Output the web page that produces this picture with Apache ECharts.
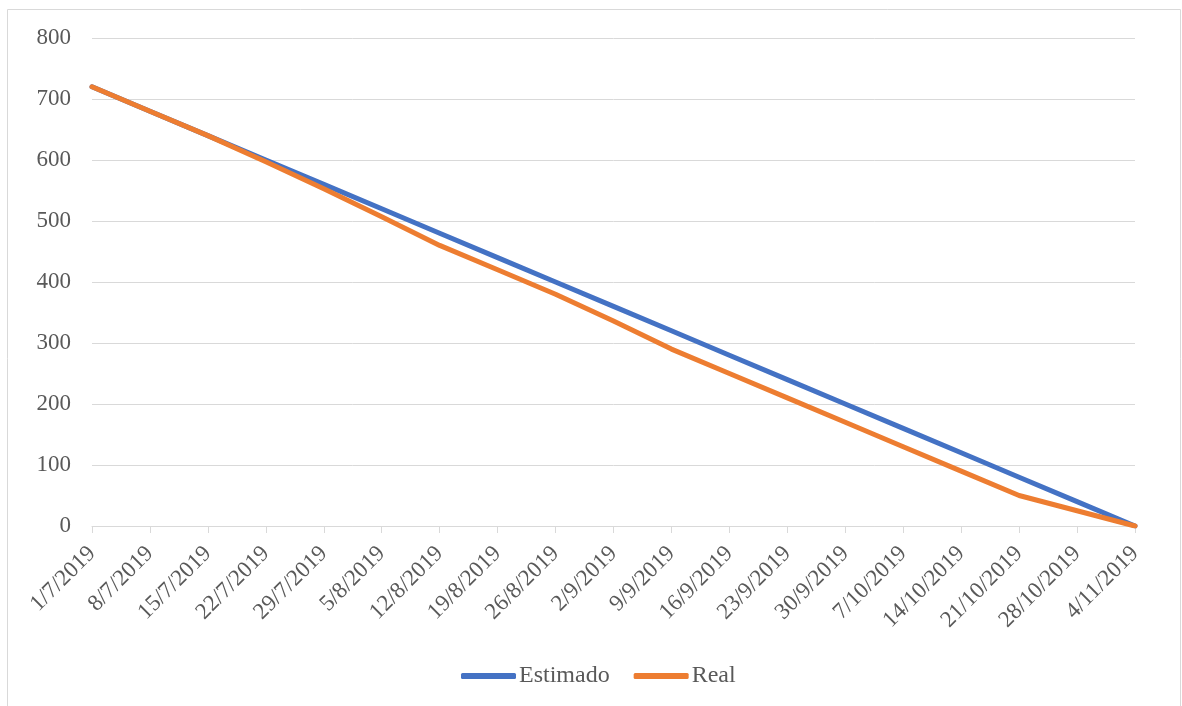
<!DOCTYPE html>
<html>
<head>
<meta charset="utf-8">
<script src="https://cdn.jsdelivr.net/npm/echarts@6/dist/echarts.min.js"></script>
<style>
html,body{margin:0;padding:0;background:#fff;}
#c{width:1182px;height:706px;}
</style>
</head>
<body>
<div id="c"></div>
<script>
const categories = ['1/7/2019','8/7/2019','15/7/2019','22/7/2019','29/7/2019','5/8/2019','12/8/2019','19/8/2019','26/8/2019','2/9/2019','9/9/2019','16/9/2019','23/9/2019','30/9/2019','7/10/2019','14/10/2019','21/10/2019','28/10/2019','4/11/2019'];
const estimado = [720,680,640,600,560,520,480,440,400,360,320,280,240,200,160,120,80,40,0];
const real = [720,680,640,597,553,507,460,420,380,336,290,250,210,170,130,90,50,25,0];
const yTicks = [0,100,200,300,400,500,600,700,800];

const font = '"Liberation Serif", "Times New Roman", serif';
const chart = echarts.init(document.getElementById('c'));
chart.setOption({
  animation: false,
  graphic: [{
    type: 'rect', shape: {x: 7.5, y: 9.5, width: 1173, height: 700},
    style: {fill: 'none', stroke: '#d9d9d9', lineWidth: 1}, silent: true
  }],
  grid: {left: 92, right: 47, top: 38, bottom: 180, containLabel: false},
  xAxis: {
    type: 'category', data: categories, boundaryGap: false,
    axisLine: {lineStyle: {color: '#d9d9d9', width: 1}},
    axisTick: {show: true, length: 7, lineStyle: {color: '#d9d9d9'}, alignWithLabel: true},
    axisLabel: {rotate: 45, interval: 0, margin: 24, color: '#595959', fontFamily: font, fontSize: 23},
    splitLine: {show: false}
  },
  yAxis: {
    type: 'value', min: yTicks[0], max: yTicks[yTicks.length-1], interval: 100,
    axisLine: {show: false}, axisTick: {show: false},
    axisLabel: {margin: 21, color: '#595959', fontFamily: font, fontSize: 23},
    splitLine: {lineStyle: {color: '#d9d9d9', width: 1}}
  },
  legend: {
    bottom: 13, left: 456,
    itemWidth: 55, itemHeight: 6, itemGap: 24,
    icon: 'roundRect',
    textStyle: {color: '#595959', fontFamily: font, fontSize: 24, padding: [0,0,0,-2]},
    data: ['Estimado', 'Real']
  },
  series: [
    {name: 'Estimado', type: 'line', data: estimado, symbol: 'none', smooth: false,
     lineStyle: {color: '#4472C4', width: 5, cap: 'round', join: 'round'}, itemStyle: {color: '#4472C4'}},
    {name: 'Real', type: 'line', data: real, symbol: 'none', smooth: false,
     lineStyle: {color: '#ED7D31', width: 5, cap: 'round', join: 'round'}, itemStyle: {color: '#ED7D31'}}
  ]
});
</script>
</body>
</html>
